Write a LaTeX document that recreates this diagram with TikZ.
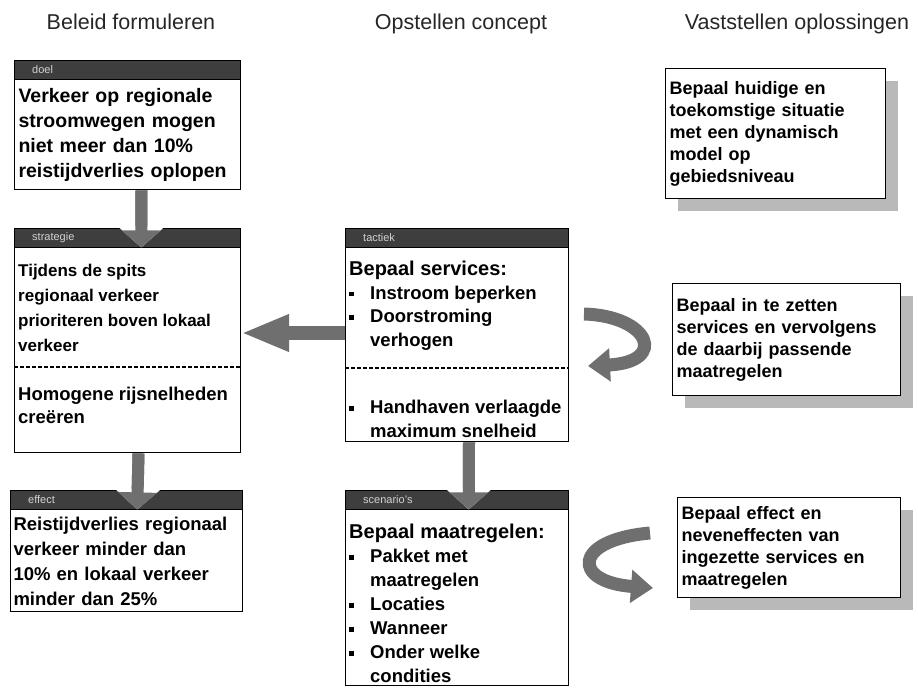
\documentclass[tikz,border=0pt]{standalone}
\usepackage{fontspec}
\setmainfont{Liberation Sans}
\usepackage{tikz}
\usetikzlibrary{positioning,arrows.meta,shadows}
\definecolor{hdrgray}{HTML}{3E3E3E}
\definecolor{arrowgray}{HTML}{6F6F6F}
\newcommand{\blt}{\makebox[21pt][l]{\rule[3pt]{4.5pt}{4.5pt}}}

\begin{document}
\begin{tikzpicture}[x=1pt,y=-1pt,
  coltitle/.style={anchor=base, font=\fontsize{21.5}{24}\selectfont, text=black!85},
  hdr/.style={anchor=north west, fill=hdrgray, draw=black, text=white!65!gray, font=\fontsize{11}{12}\selectfont, align=left, inner xsep=18pt, inner ysep=0pt, minimum height=19pt},
  body/.style={anchor=north west, draw=black, line width=1pt, inner xsep=4pt, align=left, font=\bfseries\fontsize{19.5}{25}\selectfont},
  boxtext/.style={anchor=north west, inner sep=0pt, align=left, font=\bfseries\fontsize{18.5}{24}\selectfont},
  note/.style={anchor=north west, draw=black, line width=1pt, fill=white, inner xsep=4pt, align=left, font=\bfseries\fontsize{18}{22}\selectfont, drop shadow={shadow xshift=12pt, shadow yshift=-12pt, fill=gray!55, opacity=1}},
  sep/.style={line width=2pt, dash pattern=on 4pt off 2pt},
  flowhalo/.style={line width=12pt, draw=arrowgray, -{Triangle[width=46pt,length=21pt,color=white]}},
  flowdown/.style={line width=12pt, draw=arrowgray, -{Triangle[width=38pt,length=17pt]}},
  push/.style={line width=14pt, draw=arrowgray, -{Triangle[width=34pt,length=48pt]}},
  curl/.style={line width=13pt, draw=arrowgray, -{Triangle[width=32pt,length=22pt]}}
]
\useasboundingbox (0,0) rectangle (918,688);

% Column titles
\node[coltitle] (t1) at (131,29) {Beleid formuleren};
\node[coltitle] (t2) at (461,29) {Opstellen concept};
\node[coltitle] (t3) at (797,29) {Vaststellen oplossingen};

% Beleid formuleren
\node[hdr, text width=190pt] (doelh) at (14,60) {doel};
\node[body, text width=218pt, minimum height=110pt] (doel) at (doelh.south west)
  {Verkeer op regionale\\stroomwegen mogen\\niet meer dan 10\%\\reistijdverlies oplopen};

\node[hdr, text width=190pt] (strath) at (14,228) {strategie};
\node[body, minimum width=226pt, minimum height=205pt] (strat) at (strath.south west) {};
\node[boxtext, font=\bfseries\fontsize{17}{25}\selectfont] (strat1) at (18,264) {Tijdens de spits\\regionaal verkeer\\prioriteren boven lokaal\\verkeer};
\draw[sep] (14,367) -- (240,367);
\node[boxtext, font=\bfseries\fontsize{18.5}{23}\selectfont] (strat2) at (18,387) {Homogene rijsnelheden\\creëren};

\node[hdr, text width=196pt] (effh) at (10,490) {effect};
\node[body, text width=226pt, inner xsep=3pt, minimum height=102pt, font=\bfseries\fontsize{18.5}{25}\selectfont] (eff) at (effh.south west)
  {Reistijdverlies regionaal\\verkeer minder dan\\10\% en lokaal verkeer\\minder dan 25\%};

% Opstellen concept
\node[hdr, text width=187pt] (tacth) at (345,228) {tactiek};
\node[body, minimum width=223pt, minimum height=194pt] (tact) at (tacth.south west) {};
\node[boxtext, font=\bfseries\fontsize{18.5}{23.5}\selectfont] (tact1) at (349,261)
  {{\fontsize{20}{23.5}\selectfont Bepaal services:}\\\blt Instroom beperken\\\blt Doorstroming\\\hspace*{21pt}verhogen};
\draw[sep] (345,368) -- (568,368);
\node[boxtext] (tact2) at (349,400) {\blt Handhaven verlaagde\\\hspace*{21pt}maximum snelheid};

\node[hdr, text width=187pt] (scenh) at (345,490) {scenario's};
\node[body, minimum width=223pt, minimum height=176pt] (scen) at (scenh.south west) {};
\node[boxtext] (scen1) at (349,524)
  {{\fontsize{20}{24}\selectfont Bepaal maatregelen:}\\\blt Pakket met\\\hspace*{21pt}maatregelen\\\blt Locaties\\\blt Wanneer\\\blt Onder welke\\\hspace*{21pt}condities};

% Vaststellen oplossingen
\node[note, text width=212pt, minimum height=130pt] (sol1) at (665,68)
  {Bepaal huidige en\\toekomstige situatie\\met een dynamisch\\model op\\gebiedsniveau};
\node[note, text width=220pt, minimum height=112pt] (sol2) at (672,283)
  {Bepaal in te zetten\\services en vervolgens\\de daarbij passende\\maatregelen};
\node[note, text width=215pt, minimum height=100pt] (sol3) at (677,497)
  {Bepaal effect en\\neveneffecten van\\ingezette services en\\maatregelen};

% Pijlen
\draw[flowhalo] ([xshift=14pt]doel.south) -- ([xshift=14pt]strath.south);
\draw[flowdown] ([xshift=14pt]doel.south) -- ([xshift=14pt]strath.south);
\draw[flowhalo] ([xshift=11pt]strat.south) -- ([xshift=11pt]effh.south);
\draw[flowdown] ([xshift=11pt]strat.south) -- ([xshift=11pt]effh.south);
\draw[flowhalo] ([xshift=12pt]tact.south) -- ([xshift=12pt]scenh.south);
\draw[flowdown] ([xshift=12pt]tact.south) -- ([xshift=12pt]scenh.south);
\draw[push] (tact.west |- 0,333) -- (strat.east |- 0,333);

\draw[curl] (584,314) .. controls (650,316) and (668,362) .. (588,366);
\draw[curl] (650,533) .. controls (572,540) and (572,582) .. (653,588);
\end{tikzpicture}
\end{document}
